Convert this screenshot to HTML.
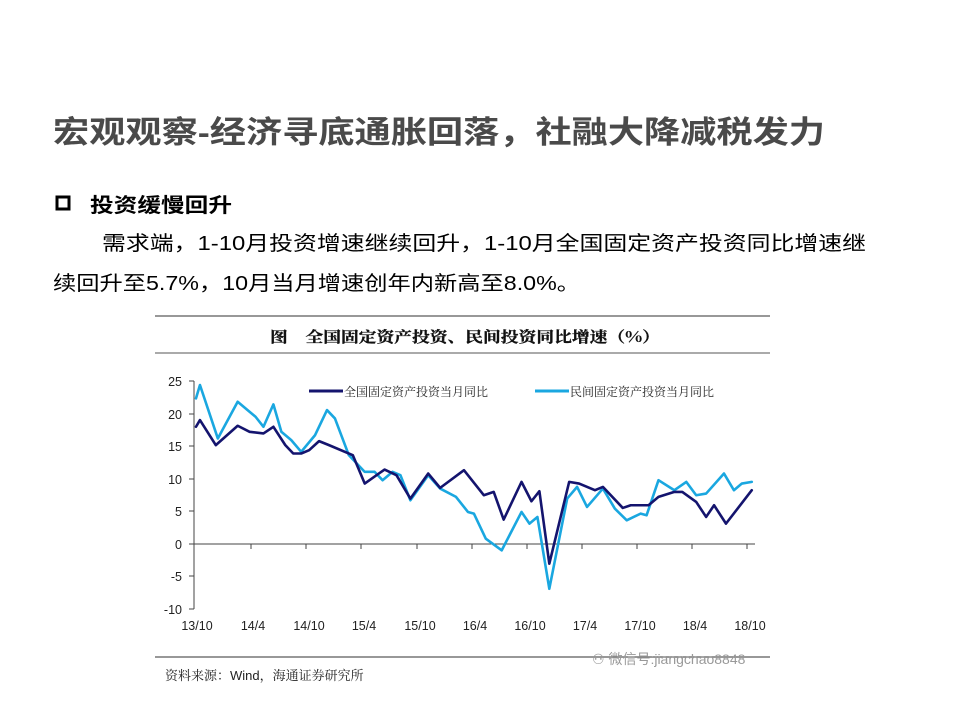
<!DOCTYPE html>
<html><head><meta charset="utf-8"><style>
html,body{margin:0;padding:0;background:#fff;}
svg{display:block;}
</style></head><body>
<svg width="960" height="720" xmlns="http://www.w3.org/2000/svg" font-family="'Liberation Sans','Noto Sans CJK SC',sans-serif">
<rect width="960" height="720" fill="#fff"/>
<text x="53" y="143" font-size="31" font-weight="bold" fill="#4a4a4a" textLength="772" lengthAdjust="spacingAndGlyphs">宏观观察-经济寻底通胀回落，社融大降减税发力</text>
<rect x="57" y="197" width="12" height="12" fill="none" stroke="#000" stroke-width="3"/>
<text x="90" y="212" font-size="20" font-weight="bold" fill="#000" textLength="142" lengthAdjust="spacingAndGlyphs">投资缓慢回升</text>
<text x="102" y="250" font-size="20" fill="#000" textLength="764" lengthAdjust="spacingAndGlyphs">需求端，1-10月投资增速继续回升，1-10月全国固定资产投资同比增速继</text>
<text x="53" y="290" font-size="20" fill="#000" textLength="527" lengthAdjust="spacingAndGlyphs">续回升至5.7%，10月当月增速创年内新高至8.0%。</text>

<line x1="155" y1="316" x2="770" y2="316" stroke="#777" stroke-width="1.5"/>
<text x="270" y="342" font-size="15" font-weight="bold" fill="#111" font-family="'Noto Serif CJK SC',serif" stroke="#111" stroke-width="0.3" textLength="390" lengthAdjust="spacingAndGlyphs">图　全国固定资产投资、民间投资同比增速（%）</text>
<line x1="155" y1="353" x2="770" y2="353" stroke="#777" stroke-width="1.2"/>

<g font-size="12.5" fill="#222" text-anchor="end">
<text x="182" y="386">25</text><text x="182" y="419">20</text><text x="182" y="451">15</text>
<text x="182" y="484">10</text><text x="182" y="516">5</text><text x="182" y="549">0</text>
<text x="182" y="581">-5</text><text x="182" y="614">-10</text>
</g>
<line x1="194" y1="381" x2="194" y2="609" stroke="#444" stroke-width="1"/>
<g stroke="#444" stroke-width="1">
<line x1="189" y1="381" x2="194" y2="381"/><line x1="189" y1="414" x2="194" y2="414"/><line x1="189" y1="446" x2="194" y2="446"/><line x1="189" y1="479" x2="194" y2="479"/><line x1="189" y1="511" x2="194" y2="511"/><line x1="189" y1="544" x2="194" y2="544"/><line x1="189" y1="576" x2="194" y2="576"/><line x1="189" y1="609" x2="194" y2="609"/>
</g>
<line x1="194" y1="544" x2="755" y2="544" stroke="#444" stroke-width="1"/>
<g stroke="#444" stroke-width="1">
<line x1="251" y1="544" x2="251" y2="549"/><line x1="306" y1="544" x2="306" y2="549"/><line x1="361" y1="544" x2="361" y2="549"/><line x1="417" y1="544" x2="417" y2="549"/><line x1="472" y1="544" x2="472" y2="549"/><line x1="527" y1="544" x2="527" y2="549"/><line x1="582" y1="544" x2="582" y2="549"/><line x1="637" y1="544" x2="637" y2="549"/><line x1="692" y1="544" x2="692" y2="549"/><line x1="747" y1="544" x2="747" y2="549"/>
</g>
<g font-size="12.5" fill="#222" text-anchor="middle">
<text x="197" y="630">13/10</text><text x="253" y="630">14/4</text><text x="309" y="630">14/10</text>
<text x="364" y="630">15/4</text><text x="420" y="630">15/10</text><text x="475" y="630">16/4</text>
<text x="530" y="630">16/10</text><text x="585" y="630">17/4</text><text x="640" y="630">17/10</text>
<text x="695" y="630">18/4</text><text x="750" y="630">18/10</text>
</g>

<line x1="309" y1="391" x2="343" y2="391" stroke="#14146e" stroke-width="3"/>
<text x="344" y="396" font-size="12" fill="#222" font-family="'Noto Serif CJK SC',serif">全国固定资产投资当月同比</text>
<line x1="535" y1="391" x2="569" y2="391" stroke="#1aa7e0" stroke-width="3"/>
<text x="570" y="396" font-size="12" fill="#222" font-family="'Noto Serif CJK SC',serif">民间固定资产投资当月同比</text>

<g transform="translate(154.3,308.2) scale(0.397,0.334)" fill="none" stroke-linejoin="round" stroke-linecap="round">
<polyline vector-effect="non-scaling-stroke" stroke="#1aa7e0" stroke-width="2.6" points="105,270 115,230 160,390 210,280 235,305 255,325 275,355 300,288 320,370 345,395 370,430 405,380 435,305 455,330 490,440 530,490 555,490 575,515 600,490 620,500 645,575 690,500 720,540 760,565 790,610 805,615 835,690 875,725 925,610 945,645 965,625 995,840 1040,570 1065,535 1090,595 1130,540 1160,600 1190,635 1225,615 1240,620 1270,515 1310,545 1340,520 1365,560 1390,555 1435,495 1460,545 1480,525 1505,520"/>
<polyline vector-effect="non-scaling-stroke" stroke="#14146e" stroke-width="2.6" points="105,355 115,335 155,410 210,352 240,370 275,375 300,355 330,410 350,435 370,435 390,425 415,398 440,410 500,440 530,525 580,483 610,500 645,570 690,495 720,538 780,485 830,560 855,550 880,633 925,520 950,578 970,548 995,765 1045,520 1070,525 1110,545 1130,535 1180,598 1200,590 1245,590 1270,565 1310,550 1330,550 1365,580 1390,625 1410,590 1440,645 1505,545"/>
</g>

<line x1="155" y1="657" x2="770" y2="657" stroke="#777" stroke-width="1.5"/>
<text x="165" y="680" font-size="13" fill="#222" font-family="'Noto Serif CJK SC',serif">资料来源：<tspan font-family="'Liberation Sans',sans-serif">Wind</tspan>，海通证券研究所</text>
<text x="592" y="664" font-size="14" fill="#999">⚇ 微信号:jiangchao8848</text>
</svg>
</body></html>
